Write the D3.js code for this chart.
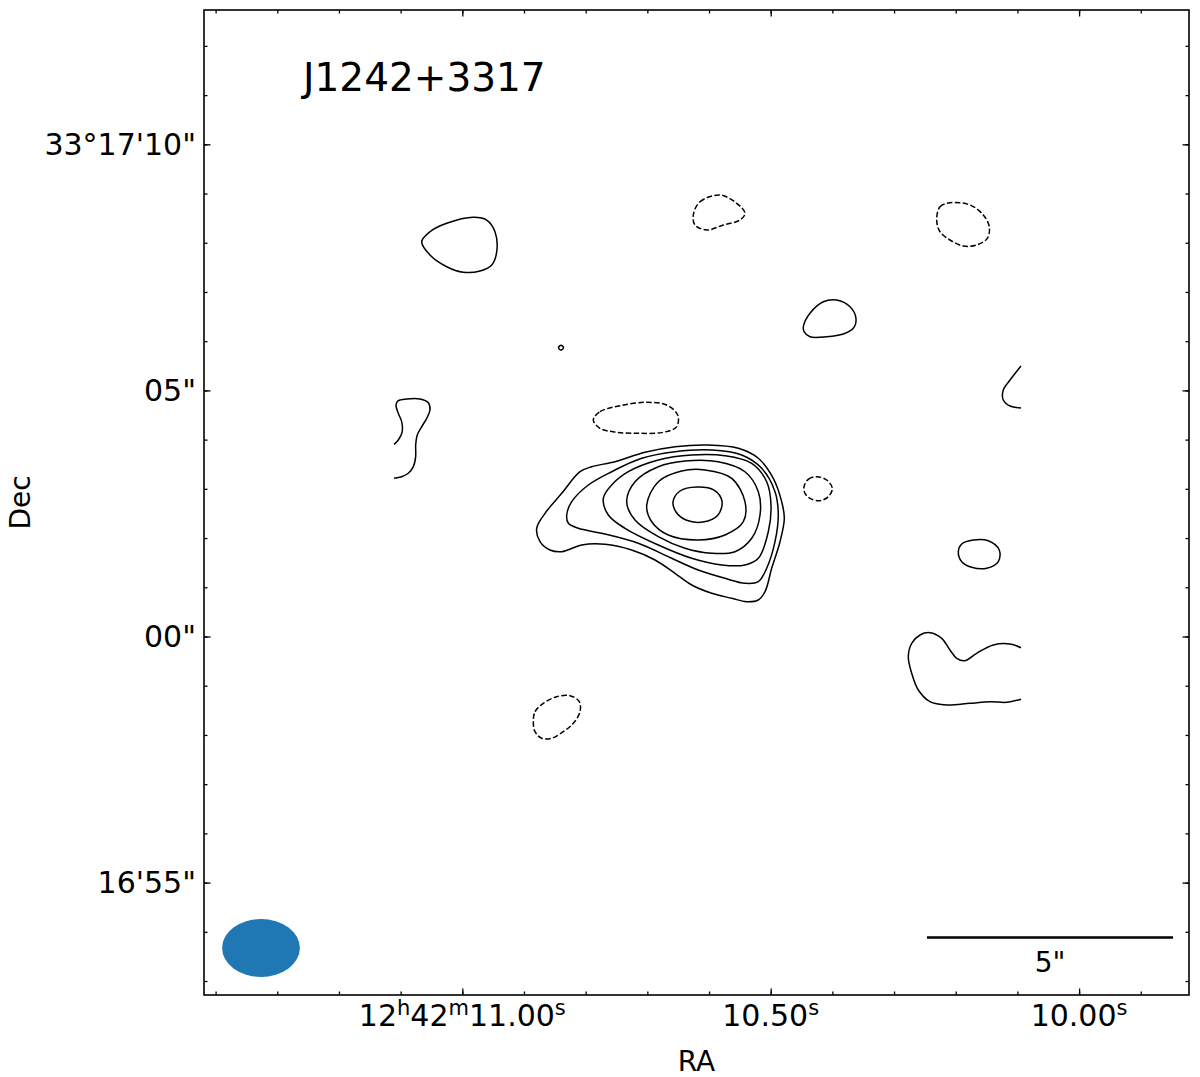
<!DOCTYPE html>
<html><head><meta charset="utf-8">
<script src="https://cdn.jsdelivr.net/npm/d3@7/dist/d3.min.js"></script>
<style>
body{margin:0;background:#fff}
text{font-family:"DejaVu Sans",sans-serif;fill:#000}
</style>
</head><body>
<svg id="chart" width="1200" height="1077"></svg>
<script>
// ---------- DATA ----------
// RA in seconds of 12h42m, Dec in arcsec offset from 33°17'00"
const title = "J1242+3317";
const raDomain = [11.4188, 9.8218];
const decDomain = [-7.284, 12.729];
const raMajorTicks = [11.00, 10.50, 10.00];
const raTickLabels = [
  [["12",0],["h",1],["42",0],["m",1],["11.00",0],["s",1]],
  [["10.50",0],["s",1]],
  [["10.00",0],["s",1]]
];
const raMinorTicks = [11.4,11.3,11.2,11.1,11.0,10.9,10.8,10.7,10.6,10.5,10.4,10.3,10.2,10.1,10.0,9.9];
const decMajorTicks = [10, 5, 0, -5];
const decTickLabels = ["33°17'10\"", "05\"", "00\"", "16'55\""];
const decMinorTicks = [-7,-6,-5,-4,-3,-2,-1,0,1,2,3,4,5,6,7,8,9,10,11,12];
const xLabel = "RA", yLabel = "Dec";

// restoring beam (arcsec, PA deg) and its position
const beam = {ra: 11.3264, dec: -6.3288, major: 1.58, minor: 1.18, pa: 90};
// scale bar
const scaleBar = {ra: 10.2466, dec: -6.1154, length: 5, label: "5\""};

// contours: main source, outer -> inner (positive levels)
const srcLevel1 = [[10.8794,2.198],[10.8659,2.503],[10.8388,2.909],[10.8092,3.348],[10.7902,3.450],[10.7524,3.551],[10.7038,3.742],[10.6551,3.856],[10.6012,3.891],[10.5525,3.824],[10.5201,3.621],[10.4958,3.214],[10.4822,2.739],[10.4779,2.402],[10.4849,1.926],[10.4984,1.386],[10.5092,0.910],[10.5201,0.742],[10.5389,0.707],[10.5632,0.776],[10.5956,0.878],[10.6281,1.046],[10.6551,1.284],[10.6876,1.554],[10.7254,1.757],[10.7686,1.873],[10.8064,1.859],[10.8388,1.723],[10.8578,1.757],[10.8740,1.926]];
const srcLevel2 = [[10.8307,2.469],[10.8226,2.739],[10.7957,3.078],[10.7578,3.348],[10.7091,3.621],[10.6551,3.755],[10.5956,3.789],[10.5470,3.688],[10.5146,3.417],[10.4930,2.942],[10.4877,2.469],[10.4930,1.926],[10.5065,1.386],[10.5201,1.113],[10.5417,1.081],[10.5741,1.182],[10.6174,1.351],[10.6605,1.589],[10.7147,1.894],[10.7740,2.097],[10.8119,2.198],[10.8281,2.300]];
const srcLevel3 = [[10.7714,2.808],[10.7578,3.078],[10.7309,3.348],[10.6822,3.586],[10.6281,3.688],[10.5741,3.673],[10.5308,3.519],[10.5065,3.145],[10.4995,2.672],[10.5039,2.129],[10.5201,1.589],[10.5417,1.453],[10.5794,1.453],[10.6281,1.589],[10.6822,1.859],[10.7362,2.198],[10.7633,2.469]];
const srcLevel4 = [[10.7335,2.739],[10.7200,3.145],[10.6822,3.450],[10.6389,3.566],[10.5850,3.551],[10.5417,3.348],[10.5201,2.942],[10.5173,2.469],[10.5308,1.995],[10.5579,1.723],[10.5956,1.690],[10.6389,1.792],[10.6822,2.028],[10.7200,2.367]];
const srcLevel5 = [[10.7010,2.672],[10.6822,3.145],[10.6443,3.363],[10.6065,3.383],[10.5632,3.214],[10.5417,2.739],[10.5444,2.332],[10.5741,2.062],[10.6174,1.961],[10.6660,2.062],[10.6929,2.332]];
const srcLevel6 = [[10.6584,2.733],[10.6470,2.956],[10.6195,3.037],[10.5919,2.976],[10.5790,2.753],[10.5854,2.469],[10.6098,2.326],[10.6373,2.367],[10.6535,2.530]];

// noise-level contours (positive)
const blobNW = [[11.0658,8.021],[11.0524,8.224],[11.0253,8.395],[10.9822,8.517],[10.9604,8.462],[10.9470,8.224],[10.9442,7.818],[10.9523,7.548],[10.9713,7.426],[10.9984,7.400],[11.0253,7.513],[11.0524,7.751]];
const blobDot = [[10.8359,5.868],[10.8400,5.918],[10.8440,5.868],[10.8400,5.817]];
const blobWestEdge = [[11.1107,3.905],[11.1038,3.992],[11.0973,4.161],[11.0983,4.364],[11.1038,4.535],[11.1075,4.703],[11.1038,4.791],[11.0901,4.825],[11.0686,4.825],[11.0551,4.750],[11.0524,4.602],[11.0577,4.433],[11.0658,4.263],[11.0730,4.094],[11.0756,3.891],[11.0756,3.653],[11.0794,3.450],[11.0876,3.316],[11.0983,3.247],[11.1107,3.214]];
const blobNE = [[10.4471,6.294],[10.4363,6.567],[10.4147,6.802],[10.3930,6.837],[10.3714,6.701],[10.3617,6.465],[10.3661,6.262],[10.3823,6.146],[10.4092,6.091],[10.4363,6.091],[10.4460,6.193]];
const blobEastArc = [[10.0942,5.496],[10.1120,5.211],[10.1229,5.008],[10.1229,4.805],[10.1120,4.683],[10.0942,4.642]];
const blobEast = [[10.1958,1.723],[10.1903,1.879],[10.1715,1.961],[10.1472,1.946],[10.1294,1.757],[10.1310,1.520],[10.1498,1.386],[10.1741,1.406],[10.1903,1.520]];
const blobSE = [[10.0942,-0.228],[10.1120,-0.152],[10.1391,-0.173],[10.1660,-0.341],[10.1850,-0.492],[10.1984,-0.443],[10.2093,-0.274],[10.2228,-0.037],[10.2417,0.077],[10.2579,0.031],[10.2714,-0.138],[10.2769,-0.410],[10.2714,-0.748],[10.2607,-1.087],[10.2417,-1.325],[10.2146,-1.392],[10.1769,-1.357],[10.1444,-1.325],[10.1174,-1.337],[10.0942,-1.276]];

// negative contours
const negN = [[10.6255,8.564],[10.6146,8.834],[10.5822,8.970],[10.5551,8.801],[10.5417,8.598],[10.5498,8.462],[10.5768,8.360],[10.6038,8.259],[10.6227,8.360]];
const negMid = [[10.7876,4.399],[10.7768,4.567],[10.7443,4.689],[10.7010,4.758],[10.6686,4.703],[10.6508,4.500],[10.6524,4.263],[10.6741,4.149],[10.7119,4.128],[10.7497,4.149],[10.7768,4.230]];
const negNE = [[10.2309,8.462],[10.2255,8.732],[10.2093,8.814],[10.1769,8.767],[10.1553,8.564],[10.1456,8.326],[10.1488,8.090],[10.1660,7.954],[10.1877,7.934],[10.2093,8.056],[10.2255,8.224]];
const negEast = [[10.4460,3.044],[10.4390,3.194],[10.4254,3.247],[10.4092,3.180],[10.4001,3.011],[10.4066,2.840],[10.4201,2.759],[10.4363,2.808],[10.4444,2.909]];
const negSW = [[10.8849,-1.731],[10.8821,-1.528],[10.8687,-1.357],[10.8470,-1.223],[10.8254,-1.203],[10.8103,-1.325],[10.8092,-1.528],[10.8200,-1.764],[10.8363,-1.934],[10.8551,-2.068],[10.8713,-2.068],[10.8821,-1.934]];

const contours = [
  {pts: srcLevel1, neg: false, closed: true},
  {pts: srcLevel2, neg: false, closed: true},
  {pts: srcLevel3, neg: false, closed: true},
  {pts: srcLevel4, neg: false, closed: true},
  {pts: srcLevel5, neg: false, closed: true},
  {pts: srcLevel6, neg: false, closed: true},
  {pts: blobNW, neg: false, closed: true},
  {pts: blobDot, neg: false, closed: true},
  {pts: blobWestEdge, neg: false, closed: false},
  {pts: blobNE, neg: false, closed: true},
  {pts: blobEastArc, neg: false, closed: false},
  {pts: blobEast, neg: false, closed: true},
  {pts: blobSE, neg: false, closed: false},
  {pts: negN, neg: true, closed: true},
  {pts: negMid, neg: true, closed: true},
  {pts: negNE, neg: true, closed: true},
  {pts: negEast, neg: true, closed: true},
  {pts: negSW, neg: true, closed: true}
];

// ---------- DRAW ----------
const L = 204, R = 1189, T = 10, B = 995;
const svg = d3.select("#chart");
const x = d3.scaleLinear().domain(raDomain).range([L, R]);
const y = d3.scaleLinear().domain(decDomain).range([B, T]);
const pxPerArcsec = y(0) - y(1);

svg.append("defs").append("clipPath").attr("id","clip")
  .append("rect").attr("x",L).attr("y",T).attr("width",R-L).attr("height",B-T);

const cg = svg.append("g").attr("clip-path","url(#clip)");
contours.forEach(c => {
  const line = d3.line().x(d => x(d[0])).y(d => y(d[1]))
    .curve(c.closed ? d3.curveCatmullRomClosed.alpha(0.5) : d3.curveCatmullRom.alpha(0.5));
  cg.append("path").attr("d", line(c.pts))
    .attr("fill","none").attr("stroke","#000").attr("stroke-width",1.5)
    .attr("stroke-dasharray", c.neg ? "5.5,2.4" : null);
});

// beam
svg.append("ellipse")
  .attr("cx", x(beam.ra)).attr("cy", y(beam.dec))
  .attr("rx", beam.major/2*pxPerArcsec).attr("ry", beam.minor/2*pxPerArcsec)
  .attr("transform", `rotate(${beam.pa-90},${x(beam.ra)},${y(beam.dec)})`)
  .attr("fill","#1f77b4");

// scale bar
const sbx = x(scaleBar.ra), sby = y(scaleBar.dec), sbw = scaleBar.length*pxPerArcsec;
svg.append("line").attr("x1",sbx).attr("x2",sbx+sbw).attr("y1",sby).attr("y2",sby)
  .attr("stroke","#000").attr("stroke-width",2.5);
svg.append("text").attr("x",sbx+sbw/2).attr("y",sby+35).attr("text-anchor","middle")
  .attr("font-size",28).text(scaleBar.label);

// ticks (inward on all sides)
function tickAxis(axisFn, scale, vals, size, tr){
  const g = svg.append("g").attr("transform",tr)
    .call(axisFn(scale).tickValues(vals).tickSize(-size).tickFormat(() => ""));
  g.select(".domain").remove();
  g.selectAll(".tick line").attr("stroke","#000").attr("stroke-width",1.3);
}
tickAxis(d3.axisBottom, x, raMinorTicks, 3.5, `translate(0,${B})`);
tickAxis(d3.axisBottom, x, raMajorTicks, 6.5, `translate(0,${B})`);
tickAxis(d3.axisTop, x, raMinorTicks, 3.5, `translate(0,${T})`);
tickAxis(d3.axisTop, x, raMajorTicks, 6.5, `translate(0,${T})`);
tickAxis(d3.axisLeft, y, decMinorTicks, 3.5, `translate(${L},0)`);
tickAxis(d3.axisLeft, y, decMajorTicks, 6.5, `translate(${L},0)`);
tickAxis(d3.axisRight, y, decMinorTicks, 3.5, `translate(${R},0)`);
tickAxis(d3.axisRight, y, decMajorTicks, 6.5, `translate(${R},0)`);

// frame
svg.append("rect").attr("x",L).attr("y",T).attr("width",R-L).attr("height",B-T)
  .attr("fill","none").attr("stroke","#000").attr("stroke-width",1.6);

// RA tick labels
raMajorTicks.forEach((v,i) => {
  const t = svg.append("text").attr("x", x(v)).attr("y", B+31)
    .attr("text-anchor","middle").attr("font-size",30);
  raTickLabels[i].forEach(([s,sup]) => {
    if (sup) t.append("tspan").attr("font-size",21).attr("dy",-11).text(s);
    else t.append("tspan").attr("dy", 0).text(s);
  });
  // reset baseline after superscripts
  t.selectAll("tspan").each(function(d, j){
    const isSup = raTickLabels[i][j][1];
    const prevSup = j>0 && raTickLabels[i][j-1][1];
    d3.select(this).attr("dy", isSup ? -11 : (prevSup ? 11 : 0));
  });
});

// Dec tick labels
decMajorTicks.forEach((v,i) => {
  svg.append("text").attr("x", L-8).attr("y", y(v)+10.5)
    .attr("text-anchor","end").attr("font-size",30).text(decTickLabels[i]);
});

// axis labels
svg.append("text").attr("x",(L+R)/2).attr("y",1071).attr("text-anchor","middle")
  .attr("font-size",28).text(xLabel);
svg.append("text").attr("transform",`translate(30,${(T+B)/2}) rotate(-90)`)
  .attr("text-anchor","middle").attr("font-size",28).text(yLabel);

// title
svg.append("text").attr("x",303).attr("y",91).attr("font-size",39).text(title);
</script>
</body></html>
